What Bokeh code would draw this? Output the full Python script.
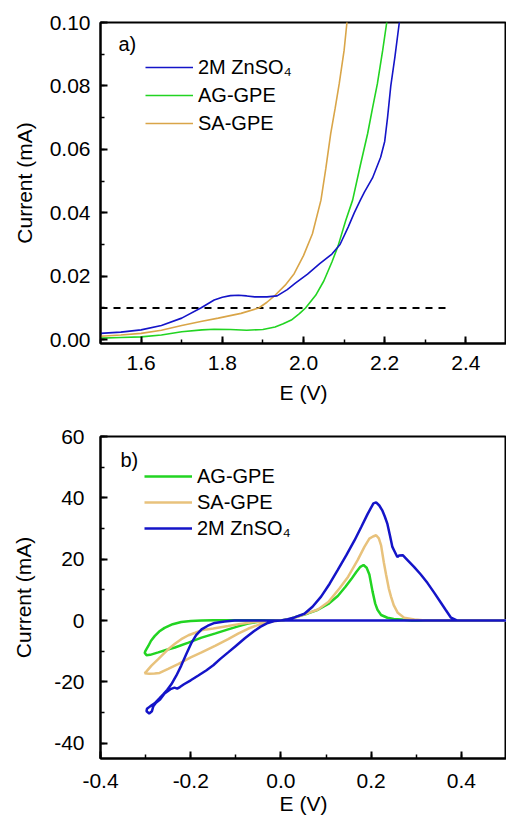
from bokeh.plotting import figure
from bokeh.layouts import column
from bokeh.models import (Legend, LegendItem, Label, SingleIntervalTicker,
                          PrintfTickFormatter, Range1d)
from bokeh.embed import file_html
from bokeh.resources import INLINE

FONT = "Liberation Sans"

# ---------------- panel a) LSV data ----------------
a_blue_E = [1.50, 1.55, 1.60, 1.65, 1.70, 1.747, 1.78, 1.80, 1.82, 1.84, 1.86, 1.88,
            1.91, 1.935, 1.96, 1.98, 2.01, 2.04, 2.07, 2.09, 2.11, 2.125, 2.14, 2.15,
            2.17, 2.19, 2.20, 2.207, 2.215, 2.225, 2.236, 2.24]
a_blue_I = [0.0020, 0.0024, 0.0031, 0.0045, 0.0068, 0.0100, 0.0125, 0.0134, 0.0139,
            0.0140, 0.0138, 0.0135, 0.0135, 0.0138, 0.0158, 0.0178, 0.0207, 0.0240,
            0.0270, 0.0300, 0.0355, 0.0400, 0.0440, 0.0465, 0.0510, 0.0575, 0.0625,
            0.0700, 0.0800, 0.0890, 0.1000, 0.1040]

a_green_E = [1.50, 1.55, 1.60, 1.65, 1.70, 1.75, 1.78, 1.82, 1.86, 1.90, 1.93, 1.95,
             1.97, 1.99, 2.005, 2.03, 2.05, 2.07, 2.085, 2.104, 2.121, 2.14, 2.158,
             2.17, 2.182, 2.195, 2.205, 2.208]
a_green_I = [0.0005, 0.0007, 0.0009, 0.0015, 0.0025, 0.0031, 0.0033, 0.0032, 0.0030,
             0.0032, 0.0040, 0.0050, 0.0062, 0.0082, 0.0100, 0.0140, 0.0185, 0.0245,
             0.0295, 0.0376, 0.0440, 0.0550, 0.0650, 0.0730, 0.0807, 0.0912, 0.1000,
             0.1040]

a_tan_E = [1.50, 1.55, 1.60, 1.65, 1.70, 1.75, 1.79, 1.846, 1.89, 1.91, 1.93, 1.955,
           1.977, 2.00, 2.022, 2.043, 2.055, 2.067, 2.078, 2.088, 2.10, 2.107, 2.109]
a_tan_I = [0.0011, 0.0015, 0.0020, 0.0030, 0.0045, 0.0058, 0.0068, 0.0083, 0.0100,
           0.0118, 0.0140, 0.0172, 0.0208, 0.0265, 0.0334, 0.0440, 0.0540, 0.0650,
           0.0730, 0.0807, 0.0912, 0.1000, 0.1040]

a_dash_E = [1.50, 2.35]
a_dash_I = [0.01, 0.01]

# ---------------- panel b) CV data ----------------
b_green_E = [0.00, -0.05, -0.10, -0.15, -0.176, -0.20, -0.221, -0.24, -0.258, -0.27,
             -0.28, -0.288, -0.294, -0.30, -0.302, -0.298, -0.29, -0.272, -0.255,
             -0.235, -0.205, -0.176, -0.145, -0.117, -0.095, -0.073, -0.05, -0.029,
             0.00, 0.02, 0.038, 0.06, 0.082, 0.105, 0.126, 0.143, 0.156, 0.167, 0.176,
             0.183, 0.19, 0.196, 0.203, 0.209, 0.214, 0.222, 0.236, 0.25, 0.267, 0.29,
             0.50]
b_green_I = [0.0, 0.1, 0.1, 0.1, 0.0, -0.2, -0.5, -1.2, -2.4, -3.6, -5.1, -6.6, -8.3,
             -9.8, -10.6, -11.3, -11.2, -10.4, -9.6, -8.8, -7.2, -5.6, -4.2, -2.9,
             -1.9, -1.0, -0.4, -0.1, 0.0, 0.5, 1.4, 2.3, 3.5, 5.4, 8.0, 11.0, 13.5,
             15.8, 17.5, 18.1, 17.2, 15.0, 9.5, 5.5, 3.5, 1.8, 0.9, 0.5, 0.3, 0.0, 0.0]

b_tan_E = [0.00, -0.014, -0.03, -0.058, -0.09, -0.117, -0.15, -0.165, -0.176, -0.19,
           -0.205, -0.221, -0.235, -0.25, -0.262, -0.272, -0.287, -0.298, -0.302,
           -0.292, -0.28, -0.269, -0.25, -0.228, -0.20, -0.176, -0.145, -0.117,
           -0.095, -0.073, -0.05, -0.036, -0.014, 0.00, 0.02, 0.04, 0.06, 0.082,
           0.105, 0.13, 0.149, 0.17, 0.185, 0.196, 0.204, 0.211, 0.217, 0.222, 0.228,
           0.233, 0.239, 0.244, 0.25, 0.259, 0.273, 0.296, 0.32, 0.50]
b_tan_I = [0.0, -0.1, -0.2, -0.5, -1.1, -1.8, -2.6, -2.9, -3.2, -4.0, -4.8, -6.1,
           -7.6, -9.4, -11.1, -12.6, -14.7, -16.6, -17.2, -17.4, -17.3, -17.1, -15.8,
           -14.2, -12.0, -10.4, -8.2, -6.1, -4.3, -2.7, -1.4, -0.8, -0.2, 0.0, 0.5,
           1.4, 2.4, 3.6, 6.0, 10.5, 14.3, 19.7, 24.0, 26.7, 27.4, 27.8, 26.8, 24.5,
           19.0, 15.0, 10.5, 7.8, 5.0, 2.5, 0.9, 0.3, 0.0, 0.0]

b_blue_E = [0.50, 0.20, 0.00, -0.05, -0.103, -0.125, -0.147, -0.162, -0.176, -0.188,
            -0.198, -0.21, -0.221, -0.232, -0.243, -0.252, -0.261, -0.27, -0.28,
            -0.29, -0.297, -0.298, -0.292, -0.286, -0.283, -0.277, -0.268, -0.258,
            -0.245, -0.236, -0.23, -0.224, -0.215, -0.20, -0.184, -0.165, -0.15,
            -0.135, -0.117, -0.10, -0.08, -0.06, -0.045, -0.029, -0.015, 0.00, 0.015,
            0.03, 0.052, 0.07, 0.089, 0.108, 0.126, 0.145, 0.163, 0.178, 0.192, 0.205,
            0.211, 0.218, 0.225, 0.23, 0.236, 0.242, 0.247, 0.252, 0.258, 0.262, 0.27,
            0.28, 0.295, 0.31, 0.325, 0.34, 0.355, 0.365, 0.377, 0.39, 0.50]
b_blue_I = [0.0, 0.0, 0.0, 0.0, 0.0, -0.3, -0.8, -1.7, -2.9, -4.8, -7.2, -11.0,
            -14.7, -18.0, -20.8, -22.6, -24.1, -25.5, -27.0, -28.0, -28.8, -29.6,
            -30.3, -29.6, -28.0, -26.8, -25.8, -23.8, -22.4, -21.9, -22.2, -21.7,
            -20.8, -19.5, -18.0, -16.2, -14.6, -12.6, -10.4, -8.3, -5.8, -3.5, -2.0,
            -0.8, -0.2, 0.0, 0.4, 1.0, 2.2, 4.5, 7.8, 12.0, 16.5, 21.3, 26.1, 30.5,
            34.7, 38.2, 38.5, 37.5, 35.8, 34.0, 31.5, 27.5, 24.0, 22.5, 20.7, 21.2,
            21.3, 19.8, 17.5, 15.0, 12.2, 9.0, 5.7, 3.5, 0.9, 0.0, 0.0]

BLUE = "#1414c8"
GREEN = "#22d422"
TAN_A = "#d9a548"
TAN_B = "#e8c27c"


def style(p, xint, yint, xfmt, yfmt, ylab_standoff, xlab_standoff,
          ytick_standoff, xtick_standoff):
    p.background_fill_color = "white"
    p.border_fill_color = "white"
    p.outline_line_color = "black"
    p.outline_line_width = 2
    p.xgrid.visible = False
    p.ygrid.visible = False
    p.xaxis.ticker = SingleIntervalTicker(interval=xint, num_minor_ticks=2)
    p.yaxis.ticker = SingleIntervalTicker(interval=yint, num_minor_ticks=2)
    p.xaxis.formatter = PrintfTickFormatter(format=xfmt)
    p.yaxis.formatter = PrintfTickFormatter(format=yfmt)
    for ax in (p.xaxis, p.yaxis):
        ax.axis_line_width = 2
        ax.axis_line_color = "black"
        ax.major_tick_in = 7
        ax.major_tick_out = 0
        ax.minor_tick_in = 4
        ax.minor_tick_out = 0
        ax.major_tick_line_width = 2
        ax.minor_tick_line_width = 1.5
        ax.major_tick_line_color = "black"
        ax.minor_tick_line_color = "black"
        ax.major_label_text_font = FONT
        ax.major_label_text_font_size = "21px"
        ax.major_label_text_color = "black"
        ax.axis_label_text_font = FONT
        ax.axis_label_text_font_size = "21px"
        ax.axis_label_text_font_style = "normal"
        ax.axis_label_text_color = "black"
    p.yaxis.axis_label_standoff = ylab_standoff
    p.xaxis.axis_label_standoff = xlab_standoff
    p.yaxis.major_label_standoff = ytick_standoff
    p.xaxis.major_label_standoff = xtick_standoff


def make_legend(items, loc, row_h):
    return Legend(items=items, location=loc, glyph_width=48, glyph_height=row_h,
                  label_height=row_h, label_standoff=5, spacing=0, padding=0,
                  margin=0, border_line_alpha=0, background_fill_alpha=0,
                  label_text_font=FONT, label_text_font_size="20px",
                  label_text_color="black")


# ---------------- figure a ----------------
p1 = figure(width=506, height=415, x_range=Range1d(1.5, 2.5),
            y_range=Range1d(-0.0012, 0.1), output_backend="svg",
            toolbar_location=None, min_border_left=100, min_border_right=0,
            min_border_top=22, min_border_bottom=72,
            x_axis_label="E (V)", y_axis_label="Current (mA)")
style(p1, 0.2, 0.02, "%.1f", "%.2f", 11, 8, 10, 12)

p1.line(a_dash_E, a_dash_I, line_color="black", line_width=2, line_dash="7 6")
r_a_tan = p1.line(a_tan_E, a_tan_I, line_color=TAN_A, line_width=1.6)
r_a_green = p1.line(a_green_E, a_green_I, line_color=GREEN, line_width=1.6)
r_a_blue = p1.line(a_blue_E, a_blue_I, line_color=BLUE, line_width=1.6)

leg1 = make_legend([LegendItem(label="2M ZnSO\u2084", renderers=[r_a_blue]),
                    LegendItem(label="AG-GPE", renderers=[r_a_green]),
                    LegendItem(label="SA-GPE", renderers=[r_a_tan])],
                   (45, 206), 28)
p1.add_layout(leg1)
p1.add_layout(Label(x=18, y=300, x_units="screen", y_units="screen", text="a)",
                    text_font=FONT, text_font_size="20px", text_baseline="middle",
                    text_color="black"))

# ---------------- figure b ----------------
p2 = figure(width=506, height=406, x_range=Range1d(-0.4, 0.5),
            y_range=Range1d(-45, 60), output_backend="svg",
            toolbar_location=None, min_border_left=100, min_border_right=0,
            min_border_top=21, min_border_bottom=63,
            x_axis_label="E (V)", y_axis_label="Current (mA)")
style(p2, 0.2, 20, "%.1f", "%d", 16, 1, 16, 15)

r_b_green = p2.line(b_green_E, b_green_I, line_color=GREEN, line_width=2.5)
r_b_tan = p2.line(b_tan_E, b_tan_I, line_color=TAN_B, line_width=2.5)
r_b_blue = p2.line(b_blue_E, b_blue_I, line_color=BLUE, line_width=2.5)

leg2 = make_legend([LegendItem(label="AG-GPE", renderers=[r_b_green]),
                    LegendItem(label="SA-GPE", renderers=[r_b_tan]),
                    LegendItem(label="2M ZnSO\u2084", renderers=[r_b_blue])],
                   (44, 217), 26)
p2.add_layout(leg2)
p2.add_layout(Label(x=20, y=299, x_units="screen", y_units="screen", text="b)",
                    text_font=FONT, text_font_size="20px", text_baseline="middle",
                    text_color="black"))

layout = column(p1, p2, spacing=0)
open("out.html", "w").write(file_html(layout, INLINE))
